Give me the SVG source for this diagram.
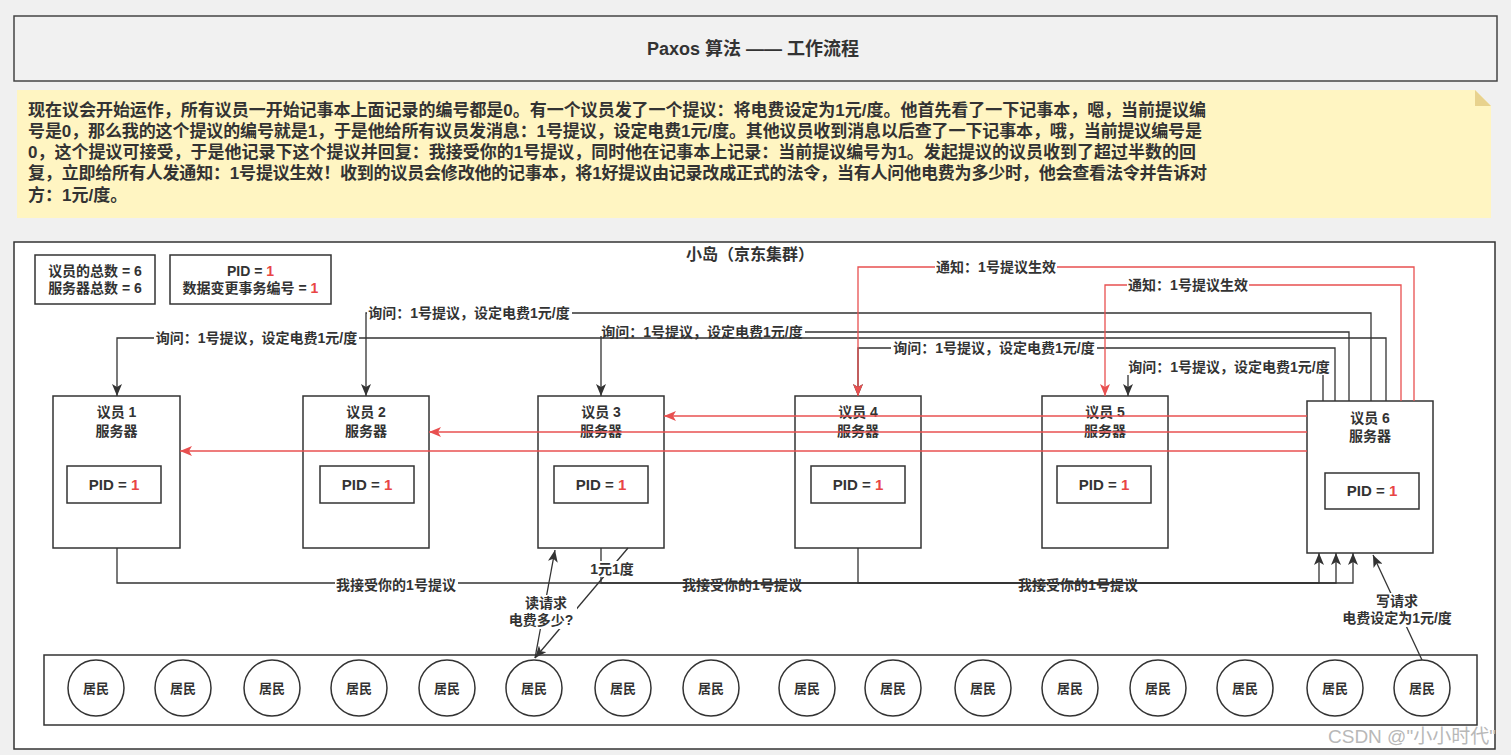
<svg xmlns="http://www.w3.org/2000/svg" width="1511" height="755" viewBox="0 0 1511 755">
<defs>
<style>
.t{font-family:"Liberation Sans","Noto Sans CJK SC",sans-serif;font-weight:bold;fill:#333333}
.s14{font-size:14px}
.s15{font-size:15px}
.s13{font-size:13px}
.c{text-anchor:middle}
.box{fill:#ffffff;stroke:#333333;stroke-width:1.5}
.ln{fill:none;stroke:#333333;stroke-width:1.3}
.rl{fill:none;stroke:#e85050;stroke-width:1.3}
.red{fill:#e84545}
.bg{fill:#ffffff}
.wm{font-family:"Liberation Sans","Noto Sans CJK SC",sans-serif;font-size:19px;fill:#b8b8b8}
</style>
<marker id="ad" markerUnits="userSpaceOnUse" markerWidth="12" markerHeight="10" refX="12" refY="5" orient="auto">
<path d="M0,0 L12,5 L0,10 L3,5 z" fill="#333333"/>
</marker>
<marker id="ar" markerUnits="userSpaceOnUse" markerWidth="12" markerHeight="10" refX="12" refY="5" orient="auto">
<path d="M0,0 L12,5 L0,10 L3,5 z" fill="#e85050"/>
</marker>
</defs>
<rect x="0" y="0" width="1511" height="755" fill="#f0f0f0"/>

<g id="title">
<rect x="14" y="16" width="1483" height="65" fill="#f1f1f1" stroke="#444444" stroke-width="1.5"/>
<text class="t c" x="753" y="55" font-size="18">Paxos 算法 —— 工作流程</text>
</g>

<g id="note">
<polygon points="17,90 1475,90 1491,106 1491,218 17,218" fill="#fff5c2"/>
<polygon points="1475,90 1475,106 1491,106" fill="#e8d28e"/>
<text class="t" font-size="17">
<tspan x="28" y="116" textLength="1178" lengthAdjust="spacing">现在议会开始运作，所有议员一开始记事本上面记录的编号都是0。有一个议员发了一个提议：将电费设定为1元/度。他首先看了一下记事本，嗯，当前提议编</tspan>
<tspan x="28" y="137" textLength="1174" lengthAdjust="spacing">号是0，那么我的这个提议的编号就是1，于是他给所有议员发消息：1号提议，设定电费1元/度。其他议员收到消息以后查了一下记事本，哦，当前提议编号是</tspan>
<tspan x="28" y="158" textLength="1168" lengthAdjust="spacing">0，这个提议可接受，于是他记录下这个提议并回复：我接受你的1号提议，同时他在记事本上记录：当前提议编号为1。发起提议的议员收到了超过半数的回</tspan>
<tspan x="28" y="179" textLength="1179" lengthAdjust="spacing">复，立即给所有人发通知：1号提议生效！收到的议员会修改他的记事本，将1好提议由记录改成正式的法令，当有人问他电费为多少时，他会查看法令并告诉对</tspan>
<tspan x="28" y="201">方：1元/度。</tspan>
</text>
</g>

<g id="island">
<rect x="14" y="242" width="1481" height="507" fill="#ffffff" stroke="#333333" stroke-width="1.5"/>
<text class="t c" x="750" y="260" font-size="16">小岛（京东集群）</text>
</g>

<g id="info-count">
<rect class="box" x="35" y="255" width="120" height="49"/>
<text class="t c s14" x="95" y="276">议员的总数 = 6</text>
<text class="t c s14" x="95" y="293">服务器总数 = 6</text>
</g>
<g id="info-pid">
<rect class="box" x="170" y="255" width="161" height="49"/>
<text class="t c s14" x="250.5" y="276">PID = <tspan class="red">1</tspan></text>
<text class="t c s14" x="250.5" y="293">数据变更事务编号 = <tspan class="red">1</tspan></text>
</g>

<g id="server1">
<rect class="box" x="53" y="396" width="127" height="152"/>
<text class="t c s14" x="116.5" y="417">议员 1</text>
<text class="t c s14" x="116.5" y="436">服务器</text>
<rect class="box" x="67" y="466" width="94" height="37"/>
<text class="t c s15" x="114" y="490">PID = <tspan class="red">1</tspan></text>
</g>
<g id="server2">
<rect class="box" x="303" y="396" width="126" height="152"/>
<text class="t c s14" x="366" y="417">议员 2</text>
<text class="t c s14" x="366" y="436">服务器</text>
<rect class="box" x="320" y="466" width="94" height="37"/>
<text class="t c s15" x="367" y="490">PID = <tspan class="red">1</tspan></text>
</g>
<g id="server3">
<rect class="box" x="538" y="396" width="126" height="152"/>
<text class="t c s14" x="601" y="417">议员 3</text>
<text class="t c s14" x="601" y="436">服务器</text>
<rect class="box" x="554" y="466" width="94" height="37"/>
<text class="t c s15" x="601" y="490">PID = <tspan class="red">1</tspan></text>
</g>
<g id="server4">
<rect class="box" x="795" y="396" width="126" height="152"/>
<text class="t c s14" x="858" y="417">议员 4</text>
<text class="t c s14" x="858" y="436">服务器</text>
<rect class="box" x="811" y="466" width="94" height="37"/>
<text class="t c s15" x="858" y="490">PID = <tspan class="red">1</tspan></text>
</g>
<g id="server5">
<rect class="box" x="1042" y="396" width="126" height="152"/>
<text class="t c s14" x="1105" y="417">议员 5</text>
<text class="t c s14" x="1105" y="436">服务器</text>
<rect class="box" x="1057" y="466" width="94" height="37"/>
<text class="t c s15" x="1104" y="490">PID = <tspan class="red">1</tspan></text>
</g>
<g id="server6">
<rect class="box" x="1307" y="401" width="126" height="152"/>
<text class="t c s14" x="1370" y="423">议员 6</text>
<text class="t c s14" x="1370" y="441">服务器</text>
<rect class="box" x="1325" y="473" width="94" height="36"/>
<text class="t c s15" x="1372" y="496">PID = <tspan class="red">1</tspan></text>
</g>

<g id="residents">
<rect class="box" x="44" y="655" width="1433" height="70"/>
<g id="r1"><circle class="box" cx="96" cy="688" r="28"/><text class="t c s13" x="96" y="693">居民</text></g>
<g id="r2"><circle class="box" cx="183" cy="688" r="28"/><text class="t c s13" x="183" y="693">居民</text></g>
<g id="r3"><circle class="box" cx="272" cy="688" r="28"/><text class="t c s13" x="272" y="693">居民</text></g>
<g id="r4"><circle class="box" cx="359" cy="688" r="28"/><text class="t c s13" x="359" y="693">居民</text></g>
<g id="r5"><circle class="box" cx="447" cy="688" r="28"/><text class="t c s13" x="447" y="693">居民</text></g>
<g id="r6"><circle class="box" cx="534" cy="688" r="28"/><text class="t c s13" x="534" y="693">居民</text></g>
<g id="r7"><circle class="box" cx="623" cy="688" r="28"/><text class="t c s13" x="623" y="693">居民</text></g>
<g id="r8"><circle class="box" cx="711" cy="688" r="28"/><text class="t c s13" x="711" y="693">居民</text></g>
<g id="r9"><circle class="box" cx="807" cy="688" r="28"/><text class="t c s13" x="807" y="693">居民</text></g>
<g id="r10"><circle class="box" cx="893" cy="688" r="28"/><text class="t c s13" x="893" y="693">居民</text></g>
<g id="r11"><circle class="box" cx="983" cy="688" r="28"/><text class="t c s13" x="983" y="693">居民</text></g>
<g id="r12"><circle class="box" cx="1070" cy="688" r="28"/><text class="t c s13" x="1070" y="693">居民</text></g>
<g id="r13"><circle class="box" cx="1158" cy="688" r="28"/><text class="t c s13" x="1158" y="693">居民</text></g>
<g id="r14"><circle class="box" cx="1245" cy="688" r="28"/><text class="t c s13" x="1245" y="693">居民</text></g>
<g id="r15"><circle class="box" cx="1335" cy="688" r="28"/><text class="t c s13" x="1335" y="693">居民</text></g>
<g id="r16"><circle class="box" cx="1422" cy="688" r="28"/><text class="t c s13" x="1422" y="693">居民</text></g>
</g>

<g id="connectors">
<path class="ln" d="M1386,401 V338 H117 V396" marker-end="url(#ad)"/>
<path class="ln" d="M1371,401 V313 H366 V396" marker-end="url(#ad)"/>
<path class="ln" d="M1349,401 V332 H601 V396" marker-end="url(#ad)"/>
<path class="ln" d="M1335,401 V348 H858 V396" marker-end="url(#ad)"/>
<path class="ln" d="M1323,401 V367 H1128 V396" marker-end="url(#ad)"/>
<path class="rl" d="M1414,401 V267 H858 V396" marker-end="url(#ar)"/>
<path class="rl" d="M1401,401 V285 H1105 V396" marker-end="url(#ar)"/>
<path class="rl" d="M1307,416 H664" marker-end="url(#ar)"/>
<path class="rl" d="M1307,432 H429" marker-end="url(#ar)"/>
<path class="rl" d="M1307,451 H180" marker-end="url(#ar)"/>
<path class="ln" d="M117,548 V583 H1353 V553" marker-end="url(#ad)"/>
<path class="ln" d="M601,548 V583 H1336 V553" marker-end="url(#ad)"/>
<path class="ln" d="M858,548 V583 H1319 V553" marker-end="url(#ad)"/>
<path class="ln" d="M535,658 L555,550" marker-end="url(#ad)"/>
<path class="ln" d="M628,548 L535,658" marker-end="url(#ad)"/>
<path class="ln" d="M1422,660 L1373,555" marker-end="url(#ad)"/>

<rect class="bg" x="154" y="330" width="205" height="16"/>
<text class="t c s14" x="256.5" y="343">询问：1号提议，设定电费1元/度</text>
<rect class="bg" x="367" y="305" width="205" height="16"/>
<text class="t c s14" x="469" y="318">询问：1号提议，设定电费1元/度</text>
<rect class="bg" x="600" y="324" width="205" height="12"/>
<text class="t c s14" x="702" y="337">询问：1号提议，设定电费1元/度</text>
<rect class="bg" x="891" y="340" width="206" height="16"/>
<text class="t c s14" x="994" y="353">询问：1号提议，设定电费1元/度</text>
<rect class="bg" x="1127" y="359" width="204" height="16"/>
<text class="t c s14" x="1229" y="372">询问：1号提议，设定电费1元/度</text>
<rect class="bg" x="935" y="259" width="122" height="16"/>
<text class="t c s14" x="996" y="272">通知：1号提议生效</text>
<rect class="bg" x="1127" y="277" width="122" height="16"/>
<text class="t c s14" x="1188" y="290">通知：1号提议生效</text>
<rect class="bg" x="335" y="577" width="123" height="16"/>
<text class="t c s14" x="396" y="590">我接受你的1号提议</text>
<text class="t c s14" x="742" y="590">我接受你的1号提议</text>
<text class="t c s14" x="1078" y="590">我接受你的1号提议</text>
<rect class="bg" x="590" y="561" width="44" height="16"/>
<text class="t c s14" x="612" y="574">1元1度</text>
<rect class="bg" x="507" y="595" width="70" height="34"/>
<text class="t c s14" x="546" y="608">读请求</text>
<text class="t c s14" x="541" y="625">电费多少?</text>
<rect class="bg" x="1341" y="593" width="112" height="34"/>
<text class="t c s14" x="1397" y="606">写请求</text>
<text class="t c s14" x="1397" y="623">电费设定为1元/度</text>
</g>

<text class="wm" x="1328" y="743">CSDN @"小小时代"</text>
</svg>
